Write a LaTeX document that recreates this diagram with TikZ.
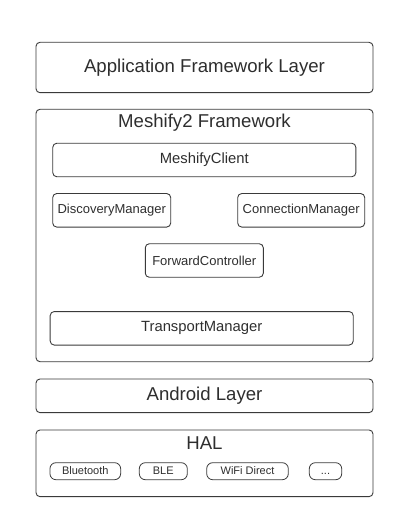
\documentclass[tikz,border=0pt]{standalone}
\usepackage{fontspec}
\setmainfont{Liberation Sans}
\usepackage{tikz}
\usetikzlibrary{positioning}
\definecolor{linegray}{HTML}{3A3A3A}
\definecolor{textgray}{HTML}{2E2E2E}
\tikzset{%
	layer/.style    = {draw=linegray, line width=0.9bp, rounded corners=4bp, inner sep=0pt, text=textgray, font=\fontsize{18.6bp}{22bp}\selectfont, minimum width=337bp}, % Layer
	module/.style   = {draw=linegray, line width=0.9bp, rounded corners=4bp, inner sep=0pt, text=textgray, minimum height=33.5bp}, % Module
	bigmod/.style   = {module, font=\fontsize{14.8bp}{17bp}\selectfont, minimum width=303bp},
	smallmod/.style = {module, font=\fontsize{13bp}{15bp}\selectfont},
	chip/.style     = {draw=linegray, line width=0.8bp, rounded corners=6bp, inner sep=0pt, text=textgray, font=\fontsize{11bp}{13bp}\selectfont, minimum height=17bp, text height=8bp, text depth=2.3bp}, % HAL chip
	title/.style    = {inner sep=0pt, text=textgray, font=\fontsize{18.6bp}{22bp}\selectfont},
}
\begin{document}
\begin{tikzpicture}[x=1bp,y=-1bp]
	\useasboundingbox (0,0) rectangle (408,512);
	% top layer
	\node [layer, minimum height=50.4bp] (app) at (204.5,67.5) {Application Framework Layer};
	
	% framework
	\node [layer, minimum height=252.4bp] (mesh) at (204.5,235.5) {};
	\node [title] (meshtitle) at (204.5,122.7) {Meshify2 Framework};
	\node [bigmod] (client) at (204.3,160) {MeshifyClient};
	\node [smallmod, minimum width=118bp] (discovery) at (111.7,210.3) {DiscoveryManager};
	\node [smallmod, minimum width=127bp] (connection) at (301.2,210.3) {ConnectionManager};
	\node [smallmod, minimum width=118bp] (forward) at (204.3,260.5) {ForwardController};
	\node [bigmod] (transport) at (201.7,328.3) {TransportManager};
	
	% android
	\node [layer, minimum height=33.7bp] (android) at (204.5,395.8) {Android Layer};
	
	% hal
	\node [layer, minimum height=66.7bp] (hal) at (204.5,463.3) {};
	\node [title] (haltitle) at (204.5,443) {HAL};
	\node [chip, minimum width=70.7bp] (bt) at (85.3,471.2) {Bluetooth};
	\node [chip, minimum width=48bp] (ble) at (163.3,471.2) {BLE};
	\node [chip, minimum width=81.6bp] (wifi) at (247.5,471.2) {WiFi Direct};
	\node [chip, minimum width=32.4bp] (more) at (325.5,471.2) {...};
\end{tikzpicture}
\end{document}
